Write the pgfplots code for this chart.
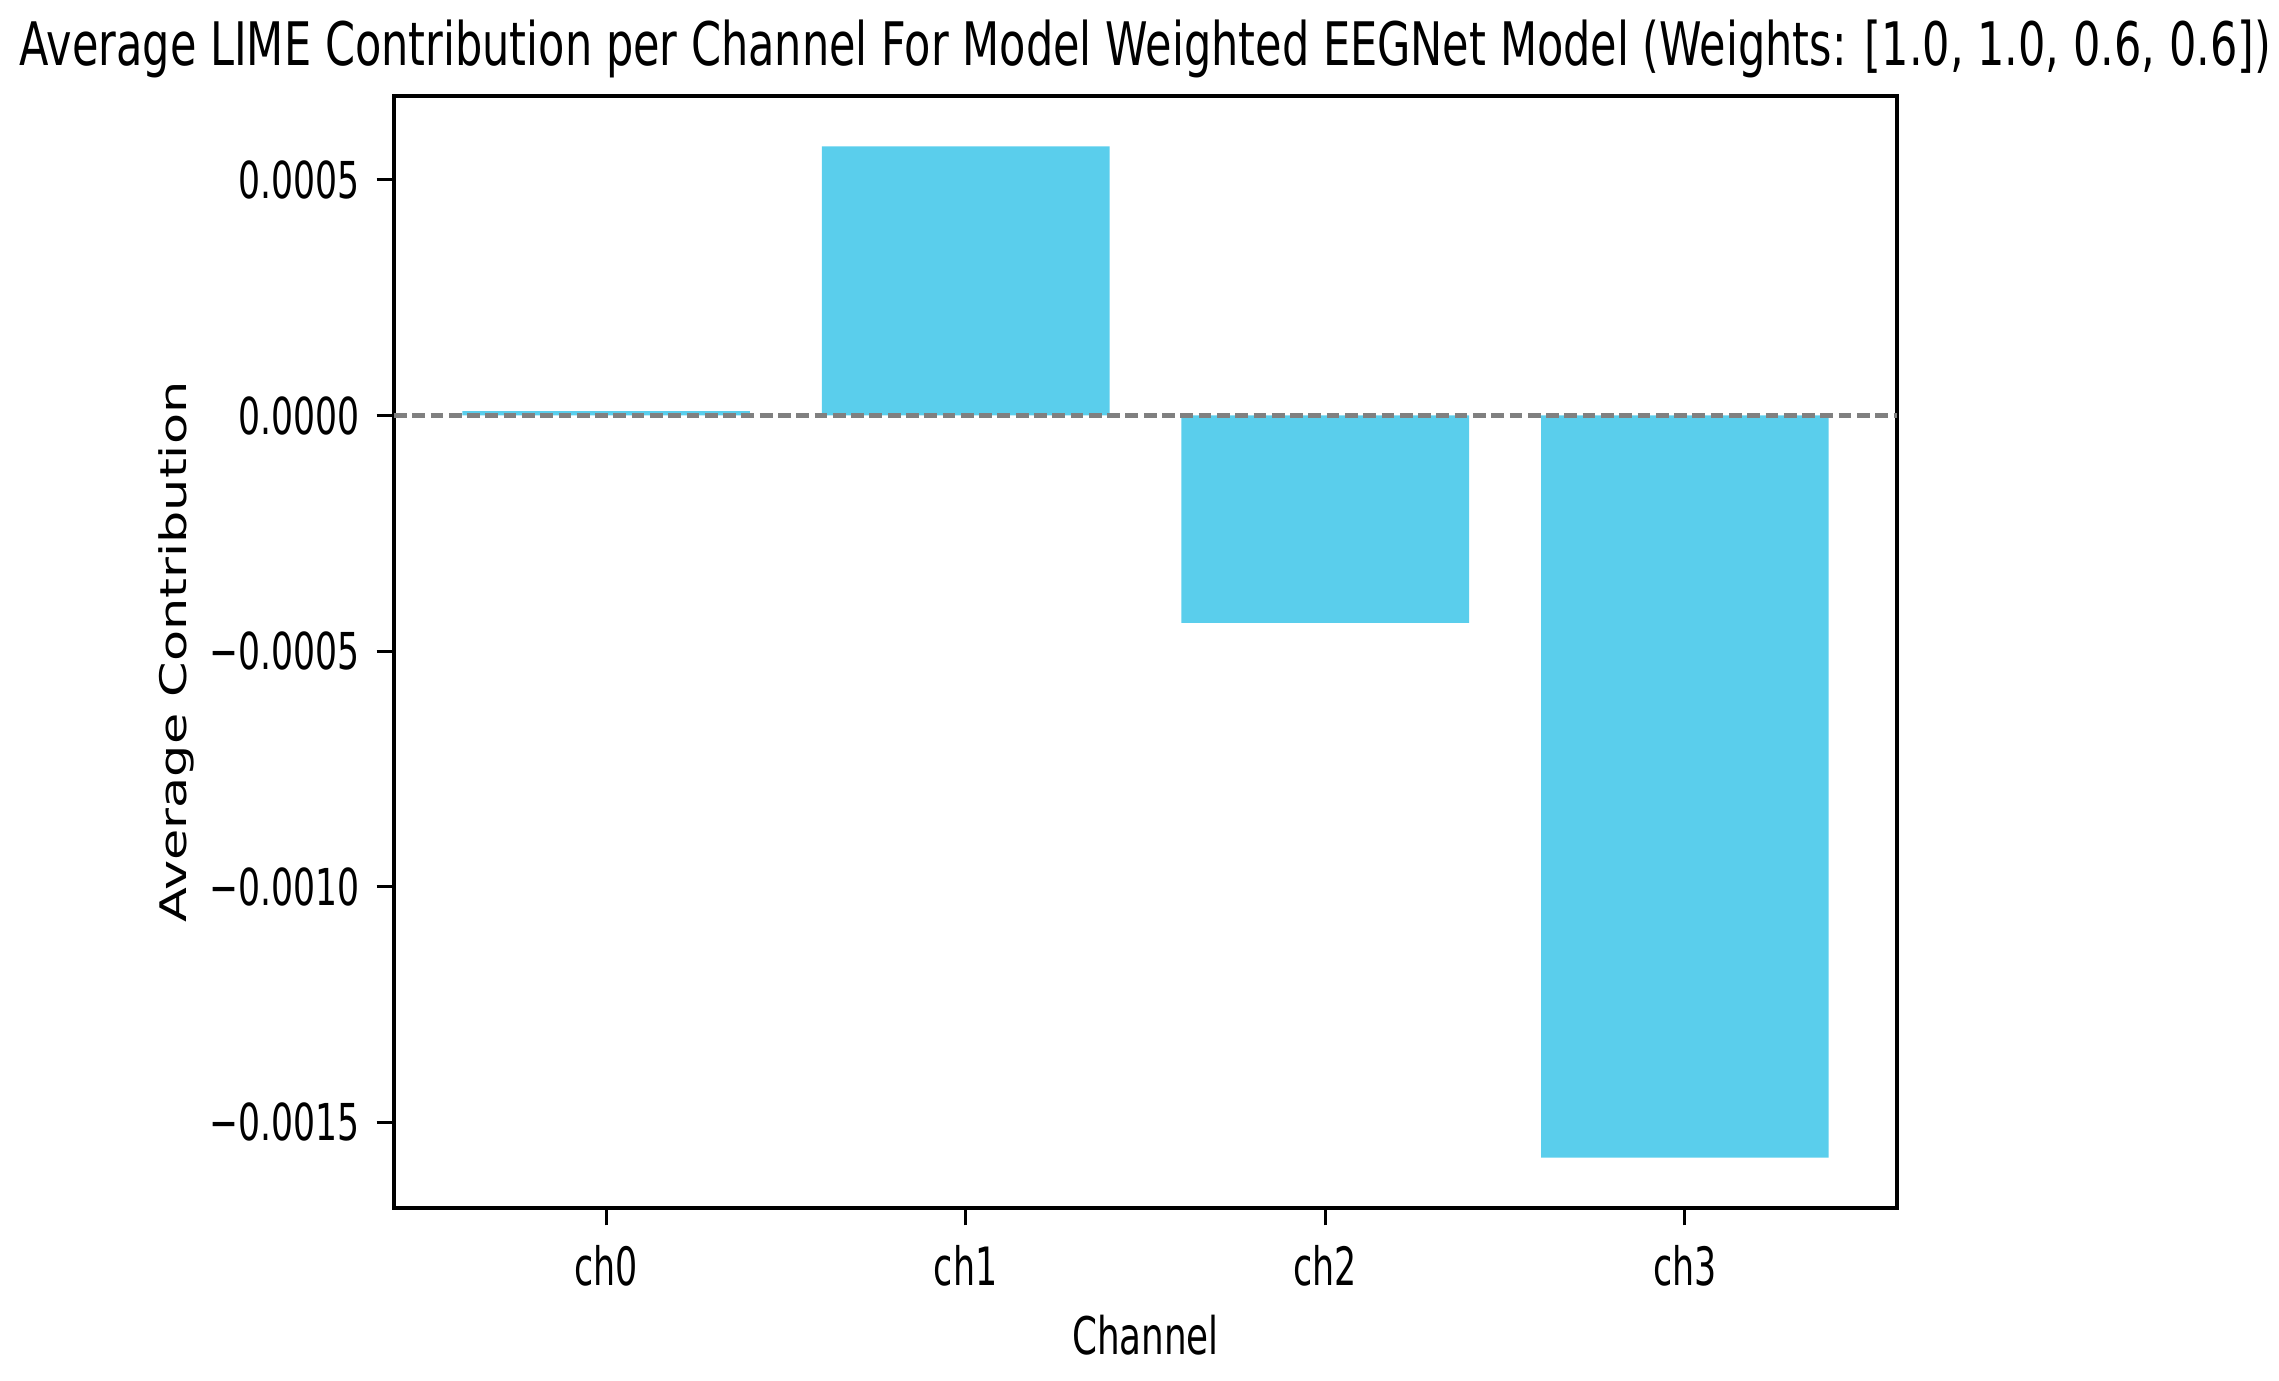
\documentclass[border=0pt]{standalone}
\usepackage{fontspec}
\setmainfont{DejaVu Sans}
\usepackage{graphicx}
\usepackage{pgfplots}
\pgfplotsset{compat=1.18}
\definecolor{barblue}{RGB}{90,206,236}
\newcommand{\sq}[1]{\scalebox{0.68}[1]{#1}}
\newcommand{\sqx}[1]{\scalebox{0.66}[1]{#1}}
\begin{document}
\begin{tikzpicture}
\useasboundingbox (-82.08pt,-35.83pt) rectangle (392.71pt,251.67pt);
\begin{axis}[
  at={(0,0)}, anchor=south west,
  scale only axis, width=313.13pt, height=231.67pt,
  xmin=-0.59, xmax=3.59, ymin=-0.001682, ymax=0.000678,
  xtick={0,1,2,3}, xticklabels={\sqx{ch0},\sqx{ch1},\sqx{ch2},\sqx{ch3}},
  ytick={-0.0015,-0.001,-0.0005,0,0.0005},
  yticklabels={\sq{−0.0015},\sq{−0.0010},\sq{−0.0005},\sq{0.0000},\sq{0.0005}},
  scaled y ticks=false,
  tick align=outside, major tick length=3.6pt, tick pos=left,
  tick style={black, line width=0.6pt},
  axis line style={line width=0.7pt},
  yticklabel style={anchor=east, font=\fontsize{10.6}{12}\selectfont},
  xticklabel style={anchor=base, yshift=-12.5pt, font=\fontsize{11}{13}\selectfont},
  every axis title/.style={at={(0.5,1)}, anchor=base, yshift=6.4pt, font=\fontsize{12.5}{15}\selectfont},
  title={\resizebox{469pt}{\height}{Average LIME Contribution per Channel For Model Weighted EEGNet Model (Weights: [1.0, 1.0, 0.6, 0.6])}},
  every axis x label/.style={at={(rel axis cs:0.5,0)}, anchor=base, yshift=-30.5pt, font=\fontsize{10.8}{13}\selectfont},
  xlabel={\scalebox{0.69}[1]{Channel}},
  every axis y label/.style={at={(rel axis cs:0,0.5)}, anchor=center, xshift=-45.4pt, rotate=90, font=\fontsize{10.6}{12}\selectfont},
  ylabel={\scalebox{1}[0.72]{Average Contribution}},
]
\addplot[ybar, bar width=0.8, bar shift=0pt, fill=barblue, draw=none]
  coordinates {(0,0.0000092) (1,0.000571) (2,-0.00044) (3,-0.001575)};
\addplot[color={rgb,255:red,128;green,128;blue,128}, line width=1pt, dash pattern=on 2.66pt off 1.15pt]
  coordinates {(-0.59,0) (3.59,0)};
\end{axis}
\end{tikzpicture}
\end{document}
